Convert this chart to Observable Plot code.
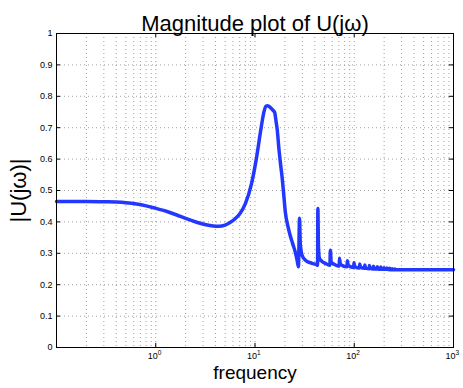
<!DOCTYPE html>
<html>
<head>
<meta charset="utf-8">
<script src="https://cdn.jsdelivr.net/npm/d3@7"></script>
<script src="https://cdn.jsdelivr.net/npm/@observablehq/plot@0.6"></script>
<style>
  html, body { margin: 0; padding: 0; background: #fff; }
  #chart svg { display: block; }
</style>
</head>
<body>
<div id="chart"></div>
<script>
// ---- data ----
const freq = [
  0.1, 0.2, 0.3, 0.4, 0.5, 0.64, 0.8, 1.0, 1.3, 1.63, 2.0, 2.58, 3.2, 3.8, 4.3, 5.0, 5.6, 6.35, 7.0, 8.0,
  9.2, 10.3, 11.4, 12.2, 12.9, 13.4, 14.3, 15.2, 15.8, 16.3, 16.8, 17.3, 18.0, 18.8, 19.5, 20.2, 21.5, 22.7, 24, 25.4, 26.5, 27.4,
  28.1, 28.6, 29.8, 32.2, 37.6, 42.2, 42.7, 43.0, 43.6, 44.5, 47, 51, 56.8, 57.5, 58.5, 62, 70.4, 71, 72.5,
  84.5, 85.2, 87, 98.8, 99.4, 101, 113, 113.6, 116, 127.3, 127.8, 130, 141.5, 142, 145, 155.8, 156.2, 159,
  170, 170.4, 174, 184.2, 184.6, 188, 198.5, 198.8, 202, 212.6, 213, 217, 227, 227.2, 231, 241, 241.4, 245,
  255.6, 256, 260, 300, 500, 1000
];
const mag = [
  0.465, 0.465, 0.464, 0.463, 0.461, 0.457, 0.451, 0.443, 0.433, 0.422, 0.411, 0.399, 0.391, 0.387, 0.386, 0.390, 0.398, 0.411, 0.425, 0.458,
  0.520, 0.600, 0.690, 0.745, 0.769, 0.770, 0.764, 0.755, 0.748, 0.720, 0.690, 0.643, 0.590, 0.539, 0.485, 0.432, 0.385, 0.355, 0.330, 0.305, 0.280, 0.257,
  0.412, 0.330, 0.294, 0.278, 0.268, 0.263, 0.262, 0.443, 0.320, 0.285, 0.275, 0.268, 0.262, 0.310, 0.272, 0.266, 0.259, 0.284, 0.265,
  0.257, 0.276, 0.261, 0.255, 0.270, 0.258, 0.253, 0.266, 0.255, 0.252, 0.263, 0.253, 0.251, 0.261, 0.252, 0.250, 0.259, 0.251,
  0.250, 0.257, 0.250, 0.249, 0.256, 0.249, 0.249, 0.254, 0.249, 0.249, 0.253, 0.249, 0.248, 0.252, 0.248, 0.248, 0.251, 0.248,
  0.248, 0.250, 0.248, 0.248, 0.248, 0.248
];
const yTicks = [0, 0.1, 0.2, 0.3, 0.4, 0.5, 0.6, 0.7, 0.8, 0.9, 1];
const yTickLabels = ["0", "0.1", "0.2", "0.3", "0.4", "0.5", "0.6", "0.7", "0.8", "0.9", "1"];
const xMajor = [1, 10, 100, 1000];
const xMajorExp = ["0", "1", "2", "3"];
const decades = [0.1, 1, 10, 100];
const minorMult = [2, 3, 4, 5, 6, 7, 8, 9];
const titleText = "Magnitude plot of U(jω)";
const xLabel = "frequency";
const yLabel = "|U(jω)|";

// ---- build ----
const data = freq.map((f, i) => ({f, m: mag[i]}));
const gridX = [];
for (const d of decades) { gridX.push(d); for (const k of minorMult) gridX.push(+(d * k).toPrecision(3)); }
gridX.push(1000);
const gridY = yTicks.slice(1, -1);
const yTickData = yTicks.map((v, i) => ({v, label: yTickLabels[i]}));
const xTickData = xMajor.map((v, i) => ({v, e: xMajorExp[i]}));

const font = "Liberation Sans, Arial, Helvetica, sans-serif";
const blue = "#2338ff";

const chart = Plot.plot({
  width: 463,
  height: 388,
  marginLeft: 56,
  marginRight: 10,
  marginTop: 33,
  marginBottom: 41,
  style: {fontFamily: font, background: "#fff", overflow: "visible"},
  x: {type: "log", domain: [0.1, 1000], axis: null},
  y: {domain: [0, 1], axis: null},
  marks: [
    Plot.ruleX(gridX, {stroke: "#888", strokeOpacity: 0.8, strokeDasharray: "1,3", strokeWidth: 1}),
    Plot.ruleY(gridY, {stroke: "#888", strokeOpacity: 0.8, strokeDasharray: "1,3", strokeWidth: 1}),
    // inward tick marks
    Plot.ruleX(xMajor, {y1: 0, y2: 0.013, stroke: "#000"}),
    Plot.ruleX(xMajor, {y1: 0.987, y2: 1, stroke: "#000"}),
    Plot.ruleY(yTicks, {x1: 0.1, x2: 0.1097, stroke: "#000"}),
    Plot.ruleY(yTicks, {x1: 911, x2: 1000, stroke: "#000"}),
    Plot.line(data, {x: "f", y: "m", stroke: blue, strokeWidth: 3.5, curve: "monotone-x", strokeLinejoin: "round", strokeLinecap: "round"}),
    Plot.frame({stroke: "#000", strokeWidth: 1}),
    // y tick labels
    Plot.text(yTickData, {x: 0.1, y: "v", text: "label", textAnchor: "end", dx: -4, fontSize: 9, fill: "#000"}),
    // x tick labels: 10 with superscript exponent
    Plot.text(xTickData, {x: "v", y: 0, text: () => "10", textAnchor: "end", dx: 2, dy: 9, fontSize: 9, fill: "#000"}),
    Plot.text(xTickData, {x: "v", y: 0, text: "e", textAnchor: "start", dx: 2, dy: 5, fontSize: 6.5, fill: "#000"}),
    // title and axis labels
    Plot.text([titleText], {frameAnchor: "top", dy: -18, fontSize: 22, fill: "#000"}),
    Plot.text([xLabel], {frameAnchor: "bottom", dy: 31, fontSize: 19, fill: "#000"}),
    Plot.text([yLabel], {x: () => 0.1, y: () => 0.5, dx: -38, rotate: -90, fontSize: 22, fill: "#000"})
  ]
});
document.getElementById("chart").appendChild(chart);
</script>
</body>
</html>
